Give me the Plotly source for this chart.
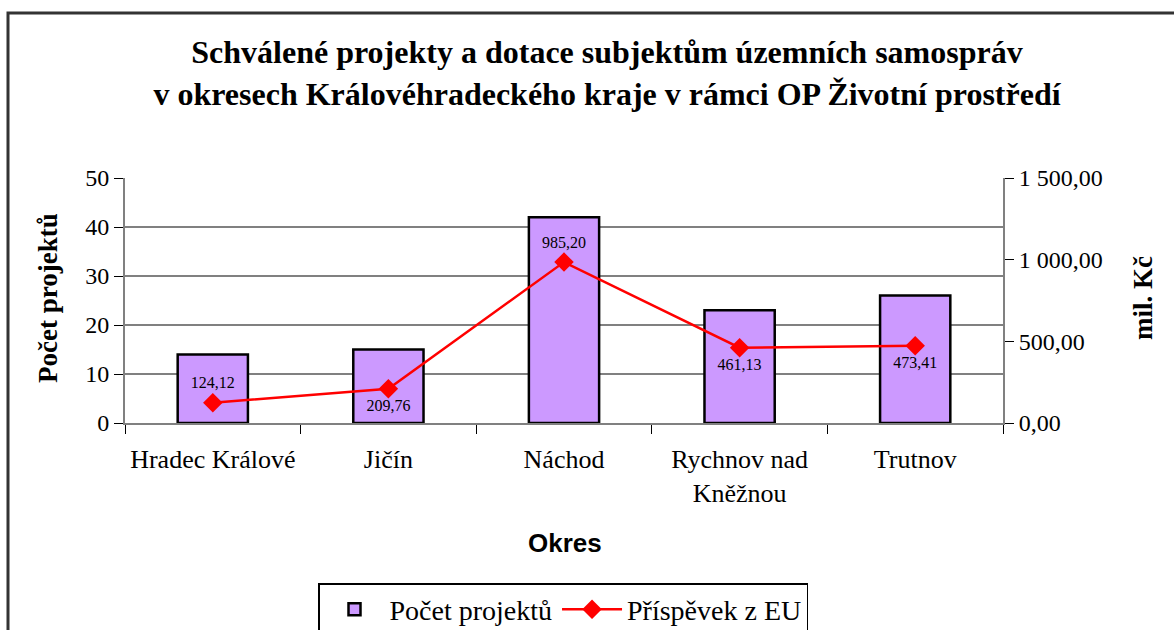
import plotly.graph_objects as go

okresy = ["Hradec Králové", "Jičín", "Náchod", "Rychnov nad<br>Kněžnou", "Trutnov"]
pocet_projektu = [14, 15, 42, 23, 26]
prispevek_eu = [124.12, 209.76, 985.20, 461.13, 473.41]
prispevek_labels = ["124,12", "209,76", "985,20", "461,13", "473,41"]
label_pos = ["top center", "bottom center", "top center", "bottom center", "bottom center"]
left_ticks = [0, 10, 20, 30, 40, 50]
right_ticks = [0, 500, 1000, 1500]
right_ticktext = ["0,00", "500,00", "1 000,00", "1 500,00"]

W, H = 1174, 630
L, R, T, B = 125, 1003, 178, 423

serif = "Liberation Serif, Times New Roman, serif"

fig = go.Figure()
fig.add_trace(go.Bar(
    x=okresy, y=pocet_projektu, name="Počet projektů",
    marker=dict(color="#CC99FF", line=dict(color="black", width=2.5)),
    width=0.4, yaxis="y",
))
fig.add_trace(go.Scatter(
    x=okresy, y=prispevek_eu, name="Příspěvek z EU", yaxis="y2",
    mode="lines+markers+text",
    line=dict(color="#FF0000", width=2.5),
    marker=dict(symbol="diamond", size=15, color="#FF0000"),
    text=prispevek_labels, textposition=label_pos,
    textfont=dict(family=serif, size=16, color="black"),
))

def px2x(px):
    return (px - L) / (R - L)

def px2y(py):
    return (B - py) / (B - T)

fig.update_layout(
    width=W, height=H,
    margin=dict(l=L, r=W - R, t=T, b=H - B, autoexpand=False),
    paper_bgcolor="white", plot_bgcolor="white",
    font=dict(family=serif, size=22, color="black"),
    title=dict(
        text="Schválené projekty a dotace subjektům územních samospráv<br>v okresech Královéhradeckého kraje v rámci OP Životní prostředí",
        x=607 / W, xanchor="center", xref="container",
        y=1 - 63 / H, yanchor="middle", yref="container",
        font=dict(family=serif, size=32, color="black", weight="bold"),
    ),
    xaxis=dict(
        type="category", showgrid=False, automargin=False,
        showline=True, linecolor="#808080", linewidth=2,
        ticks="outside", tickson="boundaries", ticklen=9, tickcolor="black", tickwidth=1,
        tickfont=dict(family=serif, size=26), ticklabelstandoff=12,
        range=[-0.5, 4.5],
    ),
    yaxis=dict(
        range=[0, 50], tickvals=left_ticks, automargin=False,
        showgrid=True, gridcolor="#808080", gridwidth=1.5,
        showline=True, linecolor="#808080", linewidth=2,
        ticks="outside", ticklen=9, tickcolor="black",
        tickfont=dict(family=serif, size=24),
        zeroline=False,
    ),
    yaxis2=dict(
        range=[0, 1500], tickvals=right_ticks, ticktext=right_ticktext,
        overlaying="y", side="right", automargin=False,
        showgrid=False, showline=True, linecolor="#808080", linewidth=2,
        ticks="outside", ticklen=9, tickcolor="black",
        tickfont=dict(family=serif, size=24),
        zeroline=False,
    ),
    showlegend=True,
    legend=dict(
        orientation="h", x=px2x(563), xanchor="center", y=px2y(583), yanchor="top",
        bordercolor="black", borderwidth=1.5, bgcolor="white",
        font=dict(family=serif, size=28),
        itemwidth=60, tracegroupgap=0,
    ),
    bargap=0.6,
)

fig.add_annotation(text="<b>Počet projektů</b>", textangle=-90,
                   x=px2x(48), y=px2y(298), xref="paper", yref="paper",
                   xanchor="center", yanchor="middle",
                   showarrow=False, font=dict(family=serif, size=27))
fig.add_annotation(text="<b>mil. Kč</b>", textangle=-90,
                   x=px2x(1143), y=px2y(298), xref="paper", yref="paper",
                   xanchor="center", yanchor="middle",
                   showarrow=False, font=dict(family=serif, size=27))
fig.add_annotation(text="<b>Okres</b>",
                   x=px2x(565), y=px2y(543), xref="paper", yref="paper",
                   xanchor="center", yanchor="middle",
                   showarrow=False, font=dict(family="Liberation Sans, Arial, sans-serif", size=26))

# outer chart frame
fig.add_shape(type="rect", xref="paper", yref="paper",
              x0=px2x(8), x1=px2x(1190), y0=px2y(650), y1=px2y(13),
              line=dict(color="#333333", width=3), layer="below")

fig.write_html("out.html", config={"displayModeBar": False},
               post_script="document.body.style.margin='0';document.body.style.overflow='hidden';")
